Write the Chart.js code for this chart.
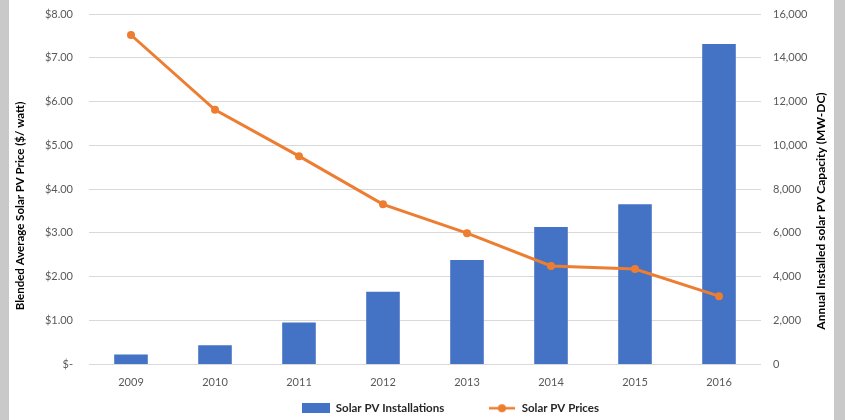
<!DOCTYPE html>
<html>
<head>
<meta charset="utf-8">
<script src="https://cdn.jsdelivr.net/npm/chart.js@4/dist/chart.umd.min.js"></script>
<style>
  html, body { margin: 0; padding: 0; background: #c9c9c9; }
  #wrap { position: absolute; left: 9px; top: 0; width: 825px; height: 420px; background: #fff; overflow: hidden; }
  #chart { display: block; }
</style>
</head>
<body>
<div id="wrap"><canvas id="chart" width="825" height="424"></canvas></div>
<script>
const years = ['2009', '2010', '2011', '2012', '2013', '2014', '2015', '2016'];
const installsMw = [435, 852, 1900, 3300, 4750, 6260, 7300, 14630];
const pricesUsd = [7.52, 5.81, 4.75, 3.65, 2.99, 2.24, 2.17, 1.55];
const priceAxis = { min: 0, max: 8, step: 1 };
const capacityAxis = { min: 0, max: 16000, step: 2000 };

const BLUE = '#4472C4';
const ORANGE = '#ED7D31';
const TICK = '#595959';
const GRID = '#d9d9d9';

Chart.defaults.font.family = 'Lato, "Open Sans", sans-serif';

function swatch(w, h, draw) {
  const c = document.createElement('canvas');
  c.width = w; c.height = h;
  draw(c.getContext('2d'));
  return c;
}
const barSwatch = swatch(28, 10, (ctx) => { ctx.fillStyle = BLUE; ctx.fillRect(0, 0, 28, 10); });
const lineSwatch = swatch(26, 10, (ctx) => {
  ctx.strokeStyle = ORANGE; ctx.lineWidth = 2.5;
  ctx.beginPath(); ctx.moveTo(0, 5); ctx.lineTo(26, 5); ctx.stroke();
  ctx.fillStyle = ORANGE; ctx.beginPath(); ctx.arc(13, 5, 4, 0, Math.PI * 2); ctx.fill();
});
const blankSwatch = swatch(1, 1, () => {});

// y axes: fixed width, no extra top/bottom room for the end labels
const fixWidth = (w) => (s) => { s.width = w; s.paddingTop = 0; s.paddingBottom = 0; };

// rotated axis titles, both reading bottom to top like the original
const axisTitles = {
  id: 'axisTitles',
  afterLayout(chart) {
    // legend sits a bit right of centre in the original
    chart.legend.left += 29;
    chart.legend.right += 29;
  },
  afterDraw(chart) {
    const { ctx } = chart;
    ctx.save();
    ctx.fillStyle = '#000';
    ctx.textAlign = 'center';
    ctx.textBaseline = 'middle';
    [[11, 206, 11.5, 'Blended Average Solar PV Price ($/ watt)'], [812, 211, 12, 'Annual Installed solar PV Capacity (MW-DC)']].forEach(([x, y, size, t]) => {
      ctx.save();
      ctx.font = 'bold ' + size + 'px Lato';
      ctx.translate(x, y);
      ctx.rotate(-Math.PI / 2);
      ctx.fillText(t, 0, 0);
      ctx.restore();
    });
    ctx.restore();
  }
};

new Chart(document.getElementById('chart'), {
  type: 'bar',
  data: {
    labels: years,
    datasets: [
      { label: 'Solar PV Installations', data: installsMw, yAxisID: 'y1', backgroundColor: BLUE, barPercentage: 0.4, categoryPercentage: 1, order: 2 },
      { type: 'line', label: 'Solar PV Prices', data: pricesUsd, yAxisID: 'y', borderColor: ORANGE, backgroundColor: ORANGE, borderWidth: 3, pointRadius: 4, pointBorderWidth: 0, pointBackgroundColor: ORANGE, tension: 0, order: 1 }
    ]
  },
  options: {
    responsive: false,
    animation: false,
    layout: { padding: { top: 14, left: 0, right: 0, bottom: 0 } },
    scales: {
      x: {
        grid: { display: false, drawTicks: false },
        border: { display: false },
        ticks: { color: TICK, font: { size: 11 }, padding: 12 },
        afterFit: (s) => { s.height = 33.5; }
      },
      y: {
        position: 'left',
        min: priceAxis.min, max: priceAxis.max,
        grid: { color: GRID, lineWidth: 1, drawTicks: false },
        border: { display: false },
        ticks: { stepSize: priceAxis.step, color: TICK, font: { size: 11 }, padding: 16, callback: (v) => (v === 0 ? '$-' : '$' + v.toFixed(2)) },
        afterFit: fixWidth(80)
      },
      y1: {
        position: 'right',
        min: capacityAxis.min, max: capacityAxis.max,
        grid: { display: false, drawTicks: false },
        border: { display: false },
        ticks: { stepSize: capacityAxis.step, color: TICK, font: { size: 11 }, padding: 12, callback: (v) => v.toLocaleString('en-US') },
        afterFit: fixWidth(73)
      }
    },
    plugins: {
      tooltip: { enabled: false },
      legend: {
        position: 'bottom',
        labels: {
          color: '#262626',
          font: { size: 11.5, weight: 'bold' },
          usePointStyle: true,
          pointStyleWidth: 28,
          padding: 5,
          generateLabels: (chart) => {
            const items = Chart.defaults.plugins.legend.labels.generateLabels(chart);
            const bars = items.find((it) => it.datasetIndex === 0);
            const line = items.find((it) => it.datasetIndex === 1);
            bars.pointStyle = barSwatch;
            line.pointStyle = lineSwatch;
            const gap = { text: '', pointStyle: blankSwatch, fillStyle: 'rgba(0,0,0,0)', strokeStyle: 'rgba(0,0,0,0)', lineWidth: 0, hidden: false, datasetIndex: -1 };
            return [bars, gap, line];
          }
        }
      }
    }
  },
  plugins: [axisTitles]
});
</script>
</body>
</html>
